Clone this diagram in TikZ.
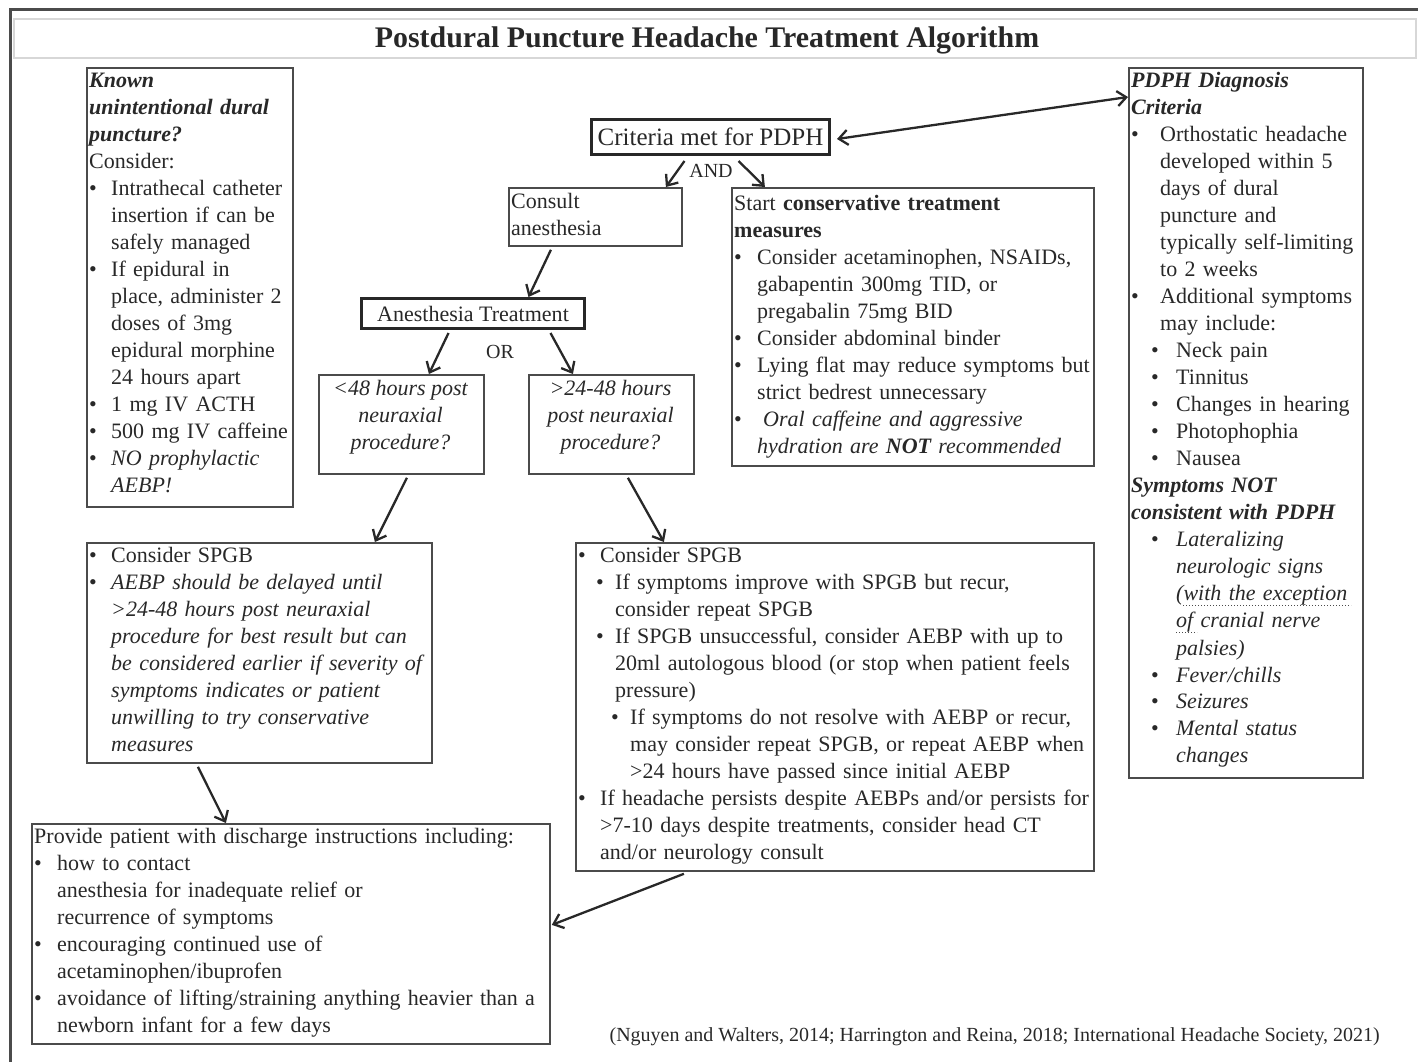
\documentclass[tikz,border=0pt]{standalone}
\usepackage{fontspec}
\setmainfont{Liberation Serif}
\usetikzlibrary{arrows.meta}
\definecolor{ink}{RGB}{40,40,40}
\definecolor{edge}{RGB}{75,75,75}
\definecolor{band}{RGB}{215,215,215}
\newcommand{\bl}[1]{\makebox[#1][l]{\textbullet}}
\newcommand{\sk}[1]{\hspace*{#1}}
\begin{document}
\begin{tikzpicture}[x=1pt,y=-1pt,
  box/.style={draw=edge,line width=1.8pt,inner sep=0pt,anchor=north west},
  thickbox/.style={draw=ink,line width=3pt,inner sep=0pt,anchor=north west},
  txt/.style={anchor=base west,inner sep=0pt,align=left,text width=620pt,text=ink,font=\fontsize{22}{27}\selectfont},
  ctxt/.style={inner sep=0pt,align=center,text=ink,font=\fontsize{22}{27}\selectfont},
  arr/.style={draw=ink,line width=2.3pt,-{Straight Barb[length=9pt,width=15pt,line width=2.3pt]}},
  darr/.style={draw=ink,line width=2.3pt,{Straight Barb[length=9pt,width=15pt,line width=2.3pt]}-{Straight Barb[length=9pt,width=15pt,line width=2.3pt]}}
]
\useasboundingbox (0,0) rectangle (1418,1062);
% outer frame and title band
\draw[edge,line width=3pt] (10,1062) -- (10,10) -- (1418,10);
\draw[band,line width=1.2pt] (14,19) rectangle (1416,58);
\node[anchor=base,inner sep=0pt,text=ink,font=\fontsize{29.9}{34}\selectfont\bfseries] (title) at (707,48) {Postdural Puncture Headache Treatment Algorithm};

% boxes
\node[box,minimum width=206pt,minimum height=439pt] (known) at (86,67) {};
\node[box,minimum width=234pt,minimum height=710pt] (pdph) at (1128,67) {};
\node[thickbox,minimum width=238pt,minimum height=35pt] (crit) at (590,118) {};
\node[box,minimum width=173pt,minimum height=58pt] (consult) at (508,187) {};
\node[box,minimum width=362pt,minimum height=278pt] (cons) at (731,187) {};
\node[thickbox,minimum width=223pt,minimum height=30pt] (anes) at (360,297) {};
\node[box,minimum width=165pt,minimum height=99pt] (lt) at (318,374) {};
\node[box,minimum width=165pt,minimum height=99pt] (gt) at (528,374) {};
\node[box,minimum width=345pt,minimum height=220pt] (spgbL) at (86,542) {};
\node[box,minimum width=518pt,minimum height=328pt] (spgbR) at (575,542) {};
\node[box,minimum width=518pt,minimum height=220pt] (disc) at (31,823) {};

% texts
\node[txt] (tknown) at (89,88) {\textbf{\textit{Known}}\\
\textbf{\textit{unintentional dural}}\\
\textbf{\textit{puncture?}}\\
Consider:\\
\bl{22pt}Intrathecal catheter\\
\sk{22pt}insertion if can be\\
\sk{22pt}safely managed\\
\bl{22pt}If epidural in\\
\sk{22pt}place, administer 2\\
\sk{22pt}doses of 3mg\\
\sk{22pt}epidural morphine\\
\sk{22pt}24 hours apart\\
\bl{22pt}1 mg IV ACTH\\
\bl{22pt}500 mg IV caffeine\\
\bl{22pt}\textit{NO prophylactic}\\
\sk{22pt}\textit{AEBP!}};

\node[txt] (tpdph) at (1131,88) {\textbf{\textit{PDPH Diagnosis}}\\
\textbf{\textit{Criteria}}\\
\bl{29pt}Orthostatic headache\\
\sk{29pt}developed within 5\\
\sk{29pt}days of dural\\
\sk{29pt}puncture and\\
\sk{29pt}typically self-limiting\\
\sk{29pt}to 2 weeks\\
\bl{29pt}Additional symptoms\\
\sk{29pt}may include:\\
\sk{20pt}\bl{25pt}Neck pain\\
\sk{20pt}\bl{25pt}Tinnitus\\
\sk{20pt}\bl{25pt}Changes in hearing\\
\sk{20pt}\bl{25pt}Photophophia\\
\sk{20pt}\bl{25pt}Nausea\\
\textbf{\textit{Symptoms NOT}}\\
\textbf{\textit{consistent with PDPH}}\\
\sk{20pt}\bl{25pt}\textit{Lateralizing}\\
\sk{45pt}\textit{neurologic signs}\\
\sk{45pt}\textit{(with the exception}\\
\sk{45pt}\textit{of cranial nerve}\\
\sk{45pt}\textit{palsies)}\\
\sk{20pt}\bl{25pt}\textit{Fever/chills}\\
\sk{20pt}\bl{25pt}\textit{Seizures}\\
\sk{20pt}\bl{25pt}\textit{Mental status}\\
\sk{45pt}\textit{changes}};
\draw[edge,line width=1pt,dotted] (1183,605) -- (1351,605);
\draw[edge,line width=1pt,dotted] (1176,632) -- (1197,632);

\node[ctxt,font=\fontsize{25}{29}\selectfont] (tcrit) at (crit.center) {Criteria met for PDPH};

\node[txt] (tconsult) at (511,208) {Consult\\anesthesia};

\node[txt] (tcons) at (734,210) {Start \textbf{conservative treatment}\\
\textbf{measures}\\
\bl{23pt}Consider acetaminophen, NSAIDs,\\
\sk{23pt}gabapentin 300mg TID, or\\
\sk{23pt}pregabalin 75mg BID\\
\bl{23pt}Consider abdominal binder\\
\bl{23pt}Lying flat may reduce symptoms but\\
\sk{23pt}strict bedrest unnecessary\\
\bl{29pt}\textit{Oral caffeine and aggressive}\\
\sk{23pt}\textit{hydration are \textbf{NOT} recommended}};

\node[ctxt] (tanes) at (anes.center) {Anesthesia Treatment};
\node[ctxt,font=\fontsize{20}{24}\selectfont] (tand) at (711,171) {AND};
\node[ctxt,font=\fontsize{20}{24}\selectfont] (tor) at (500,352) {OR};

\node[ctxt,font=\fontsize{22}{27}\selectfont\itshape] (tlt) at (400.5,417) {<48 hours post\\neuraxial\\procedure?};
\node[ctxt,font=\fontsize{22}{27}\selectfont\itshape] (tgt) at (610.5,417) {>24-48 hours\\post neuraxial\\procedure?};

\node[txt] (tspgbL) at (89,562) {\bl{22pt}Consider SPGB\\
\bl{22pt}\textit{AEBP should be delayed until}\\
\sk{22pt}\textit{>24-48 hours post neuraxial}\\
\sk{22pt}\textit{procedure for best result but can}\\
\sk{22pt}\textit{be considered earlier if severity of}\\
\sk{22pt}\textit{symptoms indicates or patient}\\
\sk{22pt}\textit{unwilling to try conservative}\\
\sk{22pt}\textit{measures}};

\node[txt] (tspgbR) at (578,562) {\bl{22pt}Consider SPGB\\
\sk{18pt}\bl{19pt}If symptoms improve with SPGB but recur,\\
\sk{37pt}consider repeat SPGB\\
\sk{18pt}\bl{19pt}If SPGB unsuccessful, consider AEBP with up to\\
\sk{37pt}20ml autologous blood (or stop when patient feels\\
\sk{37pt}pressure)\\
\sk{33pt}\bl{19pt}If symptoms do not resolve with AEBP or recur,\\
\sk{52pt}may consider repeat SPGB, or repeat AEBP when\\
\sk{52pt}>24 hours have passed since initial AEBP\\
\bl{22pt}If headache persists despite AEBPs and/or persists for\\
\sk{22pt}>7-10 days despite treatments, consider head CT\\
\sk{22pt}and/or neurology consult};

\node[txt] (tdisc) at (34,843) {Provide patient with discharge instructions including:\\
\bl{23pt}how to contact\\
\sk{23pt}anesthesia for inadequate relief or\\
\sk{23pt}recurrence of symptoms\\
\bl{23pt}encouraging continued use of\\
\sk{23pt}acetaminophen/ibuprofen\\
\bl{23pt}avoidance of lifting/straining anything heavier than a\\
\sk{23pt}newborn infant for a few days};

\node[anchor=base east,inner sep=0pt,text=ink,font=\fontsize{20}{24}\selectfont] (cite) at (1380,1041) {(Nguyen and Walters, 2014; Harrington and Reina, 2018; International Headache Society, 2021)};

% connectors
\draw[darr] ([xshift=6pt,yshift=-2pt]crit.east) -- ([yshift=-30pt]pdph.north west);
\draw[arr] ([xshift=-26pt,yshift=-5pt]crit.south) -- ([xshift=70.5pt]consult.north);
\draw[arr] ([xshift=28pt,yshift=-5pt]crit.south) -- ([xshift=-148pt]cons.north);
\draw[arr] ([xshift=-44.5pt,yshift=-3pt]consult.south) -- ([xshift=55.5pt]anes.north);
\draw[arr] ([xshift=-24.5pt,yshift=-3pt]anes.south) -- ([xshift=27.5pt]lt.north);
\draw[arr] ([xshift=77.5pt,yshift=-3pt]anes.south) -- ([xshift=-38.5pt]gt.north);
\draw[arr] ([xshift=5.5pt,yshift=-3pt]lt.south) -- ([xshift=115.5pt]spgbL.north);
\draw[arr] ([xshift=16.5pt,yshift=-3pt]gt.south) -- ([xshift=-171pt]spgbR.north);
\draw[arr] ([xshift=-61.5pt,yshift=-3pt]spgbL.south) -- ([xshift=-65pt]disc.north);
\draw[arr] ([xshift=-151pt,yshift=-2pt]spgbR.south) -- ([xshift=1pt,yshift=9pt]disc.east);
\end{tikzpicture}
\end{document}
